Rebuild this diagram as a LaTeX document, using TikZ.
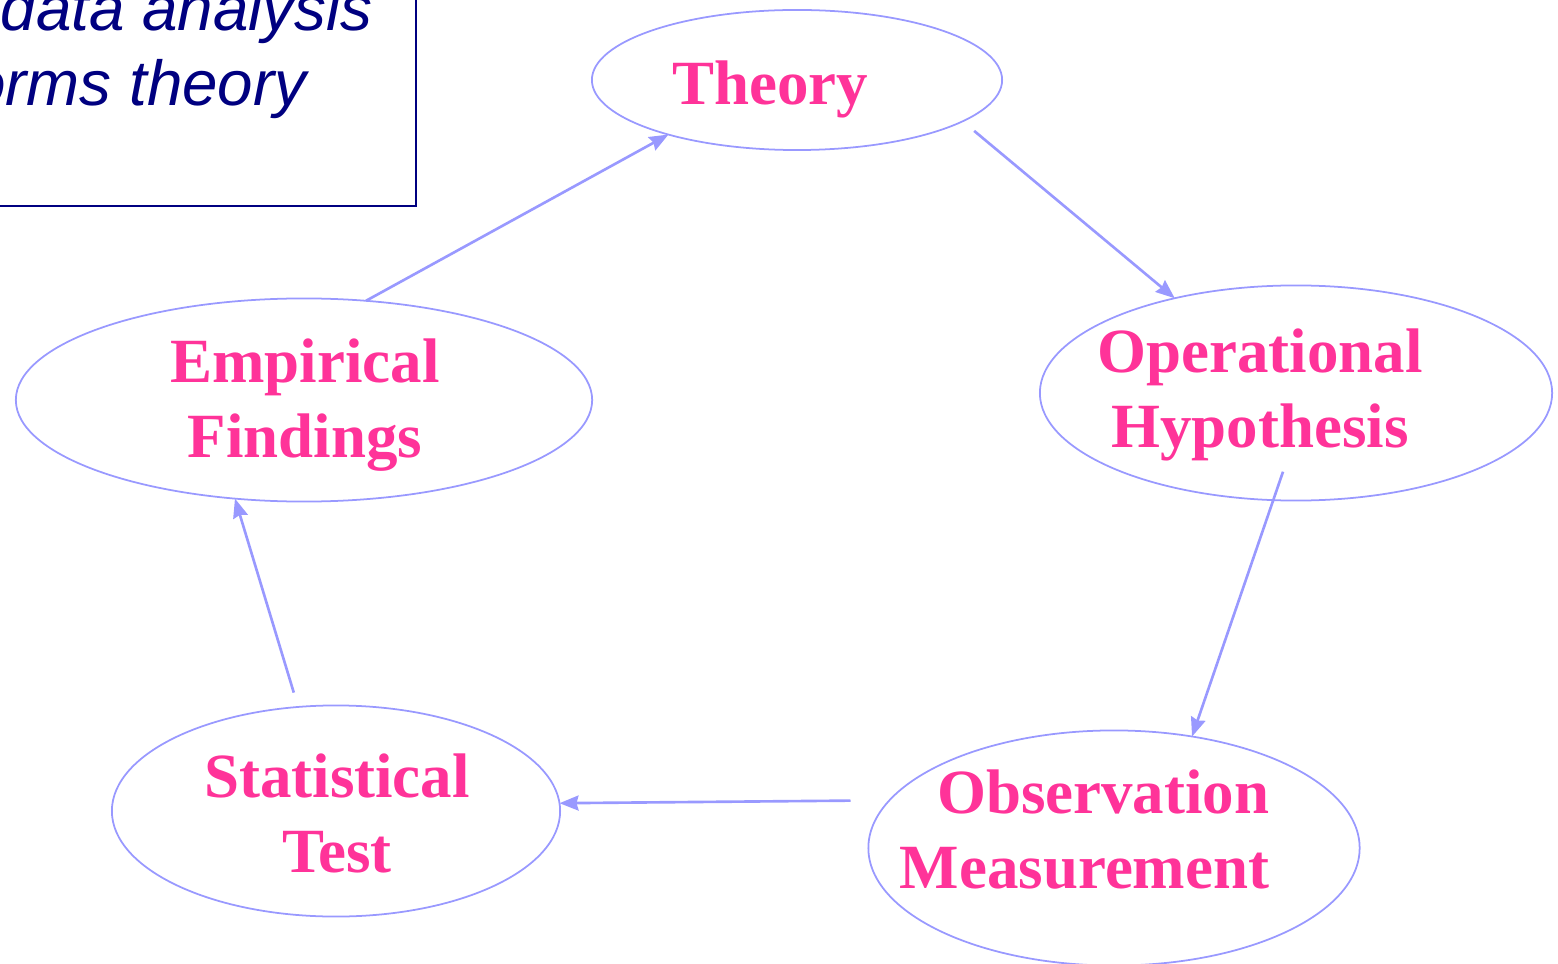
\documentclass[tikz,border=0pt]{standalone}
\usepackage{fontspec}
\setmainfont{Liberation Serif}
\setsansfont{Liberation Sans}
\usepackage{tikz}
\usetikzlibrary{shapes.geometric, arrows.meta}
\definecolor{CyPink}{RGB}{255,51,153}
\definecolor{CyLilac}{RGB}{153,153,255}
\definecolor{CyNavy}{RGB}{0,0,128}

\begin{document}
\begin{tikzpicture}[x=0.01cm, y=-0.01cm,
      oval/.style={ellipse, draw=CyLilac, line width=0.5pt, inner sep=0pt,
                   outer sep=0pt},
      lbl/.style={text=CyPink, align=center, inner sep=0pt, anchor=base,
                  font=\fontsize{17.9}{21.3}\selectfont\bfseries},
      note/.style={text=CyNavy, inner sep=0pt, anchor=base east,
                   font=\fontsize{18.1}{21.3}\selectfont\sffamily\itshape},
      arr/.style={-{Stealth[length=0.19cm, width=0.15cm, inset=0.02cm]},
                  draw=CyLilac, line width=0.75pt}
    ]
    \clip (0,0) rectangle (1558,964);

    % comment box, cut by the page edge
    \draw[CyNavy, line width=0.6pt] (-30,-30) rectangle (416,206);
    \node[note] (line1) at (373,31)  {data analysis};
    \node[note] (line2) at (307,106) {informs theory};

    % the cycle
    \node[oval, minimum width=4.10cm, minimum height=1.40cm] (theory) at (797,80) {};
    \node[oval, minimum width=5.12cm, minimum height=2.15cm] (op)     at (1296,393) {};
    \node[oval, minimum width=4.91cm, minimum height=2.35cm] (obs)    at (1114,848) {};
    \node[oval, minimum width=4.48cm, minimum height=2.11cm] (stat)   at (336,811) {};
    \node[oval, minimum width=5.76cm, minimum height=2.03cm] (emp)    at (304,400) {};

    % labels (base = last line)
    \node[lbl]                  (theorytxt) at (770,105)  {Theory};
    \node[lbl]                  (optxt)     at (1260,447) {Operational\\Hypothesis};
    \node[lbl, align=right, anchor=base east] (obstxt) at (1270,888) {Observation\\Measurement};
    \node[lbl]                  (stattxt)   at (337,872)  {Statistical\\Test};
    \node[lbl]                  (emptxt)    at (305,457)  {Empirical\\Findings};

    \draw[arr] (emp.58) -- (theory.203);
    \draw[arr, shorten <=0.15cm] (theory.-14) -- (op.142);
    \draw[arr, shorten <=-0.3cm] (op.-102) -- (obs.55);
    \draw[arr, shorten <=0.39cm] (obs.168.5) -- (stat.2);
    \draw[arr, shorten <=0.15cm] (stat.110) -- (emp.-125);
  \end{tikzpicture}
\end{document}
